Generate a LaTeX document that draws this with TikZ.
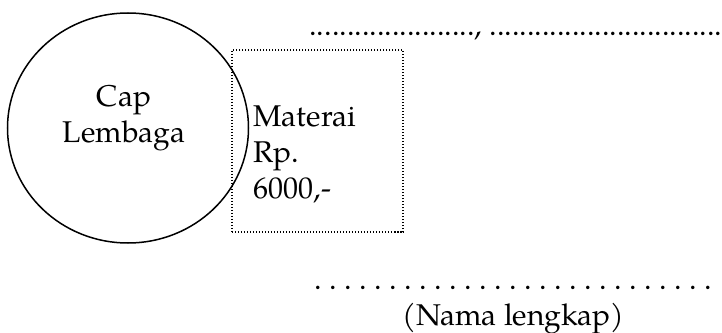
\documentclass[tikz,border=0pt]{standalone}
\usepackage{fontspec}
\setmainfont{TeX Gyre Pagella}
\usepackage{tikz}
\usetikzlibrary{shapes.geometric}
\tikzstyle{stempel} = [ellipse, draw, line width=0.6pt, minimum width=96.4pt, minimum height=92pt, inner sep=0pt]
\tikzstyle{materai} = [rectangle, draw, line width=0.6pt, dash pattern=on 0.6pt off 0.6pt, minimum width=68.4pt, minimum height=72.8pt, inner sep=0pt]
\tikzstyle{teks} = [inner sep=0pt, font=\fontsize{12}{14.4}\selectfont]
\tikzstyle{titik} = [inner sep=0pt, anchor=base west, font=\fontsize{12}{14.4}\selectfont]

\newcommand{\barisTitik}[2]{\hbox to #1{\cleaders\hbox to #2{\hss.\hss}\hfill}}

\begin{document}
\begin{tikzpicture}[x=0.4pt, y=-0.4pt]
\useasboundingbox (0,0) rectangle (722,333);

% stempel dan kotak materai
\node[stempel] (caplembaga) at (128,128) {};
\node[materai] (meterai) at (317.5,141) {};

% tulisan di dalam (base = baris terakhir)
\node[teks, align=center, anchor=base] (lembaga) at (124,142) {Cap\\Lembaga};
\node[teks, align=left, anchor=base west] (nominal) at (253,198) {Materai\\Rp.\\6000,-};

% tempat dan tanggal
\node[titik] (tanggal) at (309,35) {......................, ..................................................};

% tanda tangan
\node[titik] (garisbawah) at (304,290) {\barisTitik{167.2pt}{6pt}};
\node[teks, anchor=base] (nama) at ([yshift=-14pt]garisbawah.base) {(Nama lengkap)};

\end{tikzpicture}
\end{document}
